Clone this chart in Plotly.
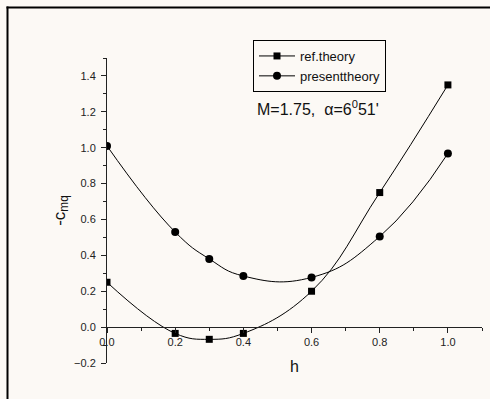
import plotly.graph_objects as go

h = [0.0, 0.2, 0.3, 0.4, 0.6, 0.8, 1.0]
ref_theory = [0.25, -0.035, -0.068, -0.035, 0.20, 0.75, 1.35]
present_theory = [1.01, 0.53, 0.38, 0.285, 0.277, 0.505, 0.968]
series_names = ["ref.theory", "presenttheory"]

W, H = 490, 399
ML, MR, MT, MB = 107, 8, 58, 36
pw, ph = W - ML - MR, H - MT - MB
Y0, Y1 = -0.2, 1.5


def px(x):
    return (x - ML) / pw


def py(y):
    return (H - MB - y) / ph


font_fam = "Liberation Sans, Arial, sans-serif"

fig = go.Figure()
fig.add_trace(go.Scatter(
    x=h, y=ref_theory, name=series_names[0], mode="lines+markers",
    line=dict(color="black", width=1, shape="spline", smoothing=1.2),
    marker=dict(symbol="square", size=7, color="black"),
))
fig.add_trace(go.Scatter(
    x=h, y=present_theory, name=series_names[1], mode="lines+markers",
    line=dict(color="black", width=1, shape="spline", smoothing=1.3),
    marker=dict(symbol="circle", size=8, color="black"),
))

fig.update_layout(
    width=W, height=H,
    margin=dict(l=ML, r=MR, t=MT, b=MB, autoexpand=False),
    paper_bgcolor="#fcf9f5",
    plot_bgcolor="rgba(0,0,0,0)",
    font=dict(family=font_fam, color="#111"),
    showlegend=True,
    legend=dict(
        x=px(253), y=py(40), xanchor="left", yanchor="top",
        xref="paper", yref="paper",
        bordercolor="black", borderwidth=1, bgcolor="rgba(0,0,0,0)",
        font=dict(size=13, color="#111"), itemwidth=36,
        tracegroupgap=0,
    ),
    xaxis=dict(
        range=[0, 1.1], tick0=0, dtick=0.2, tickformat=".1f",
        anchor="free", position=(0 - Y0) / (Y1 - Y0),
        showline=True, linecolor="#222", linewidth=1,
        ticks="outside", ticklen=5, tickcolor="#222", tickwidth=1,
        minor=dict(dtick=0.1, ticks="outside", ticklen=3, tickcolor="#222"),
        showgrid=False, zeroline=False, automargin=False,
        tickfont=dict(size=11, color="#222"),
        title=dict(text="h", font=dict(size=16, color="#111"), standoff=13),
    ),
    yaxis=dict(
        range=[Y0, Y1], tick0=0, dtick=0.2, tickformat=".1f",
        showline=True, linecolor="#222", linewidth=1,
        ticks="outside", ticklen=5, tickcolor="#222", tickwidth=1,
        minor=dict(dtick=0.1, ticks="outside", ticklen=3, tickcolor="#222"),
        showgrid=False, zeroline=False, automargin=False,
        ticklabelstandoff=3,
        tickfont=dict(size=11, color="#222"),
        title=dict(text="-c<sub>mq</sub>", font=dict(size=17, color="#111"), standoff=4),
    ),
    shapes=[
        dict(type="line", xref="paper", yref="paper",
             x0=px(6.5), y0=py(7.5), x1=px(495), y1=py(7.5),
             line=dict(color="black", width=2)),
        dict(type="line", xref="paper", yref="paper",
             x0=px(7.5), y0=py(6.5), x1=px(7.5), y1=py(405),
             line=dict(color="black", width=2)),
    ],
    annotations=[dict(
        text="M=1.75,  \u03b1=6<sup>0</sup>51'", xref="paper", yref="paper",
        x=px(255), y=py(108), xanchor="left", yanchor="middle",
        showarrow=False, font=dict(size=16, color="#111"),
    )],
)

fig.write_html(
    "out.html",
    config={"displayModeBar": False},
    post_script=(
        "document.body.style.margin='0';"
        "document.body.style.overflow='hidden';"
        "document.documentElement.style.overflow='hidden';"
        "document.body.style.background='#fcf9f5';"
    ),
)
